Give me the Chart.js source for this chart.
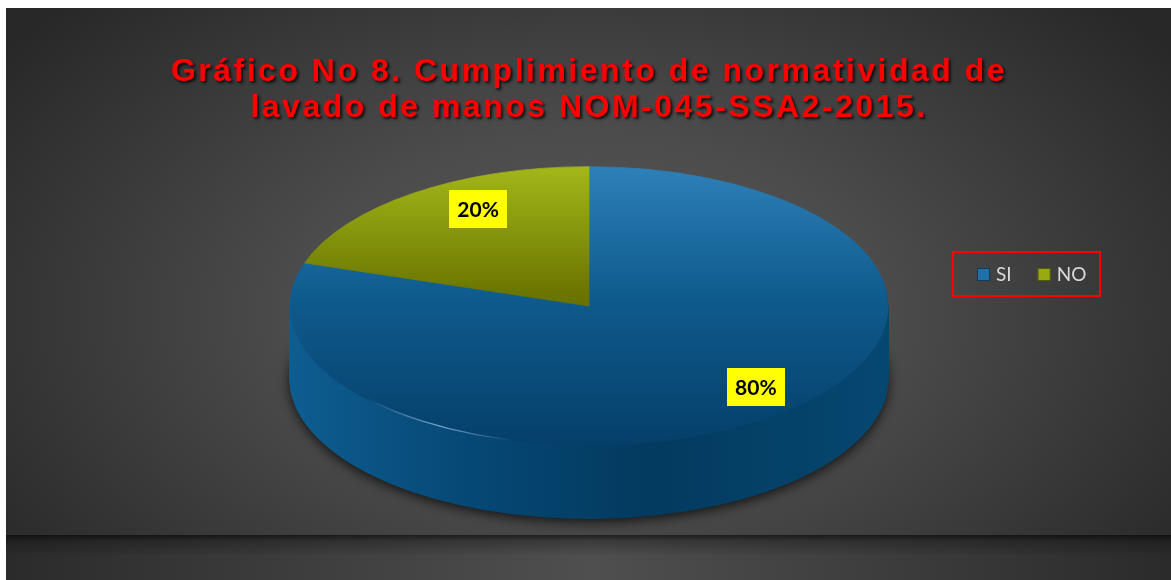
<!DOCTYPE html>
<html>
<head>
<meta charset="utf-8">
<script src="https://cdn.jsdelivr.net/npm/chart.js@4.4.1/dist/chart.umd.min.js"></script>
<style>
  html, body { margin: 0; padding: 0; background: #fff; }
  #wrap { position: relative; width: 1171px; height: 580px; overflow: hidden; }
  #panel {
    position: absolute; left: 6px; top: 8px; right: 0; height: 527px;
    background: radial-gradient(ellipse 62% 85% at 50% 58%, #585858 0%, #4c4c4c 40%, #373737 75%, #282828 100%);
  }
  #shelf {
    position: absolute; left: 6px; top: 535px; right: 0; bottom: 0;
    background:
      linear-gradient(to bottom, rgba(0,0,0,0.6) 0px, rgba(0,0,0,0.25) 6px, rgba(0,0,0,0) 22px),
      linear-gradient(to right, #2b2b2b 0%, #4f4f4f 50%, #2b2b2b 100%);
  }
  canvas { position: absolute; left: 0; top: 0; }
</style>
</head>
<body>
<div id="wrap">
  <div id="panel"></div>
  <div id="shelf"></div>
  <canvas id="grafico" width="1171" height="580"></canvas>
</div>
<script>
// datos
const categorias = ['SI', 'NO'];
const porcentajes = [80, 20];
const titulo = ['Gráfico No 8. Cumplimiento de normatividad de', 'lavado de manos NOM-045-SSA2-2015.'];

// estilo del pastel 3D
const INCLINACION = 0.466;   // alto/ancho de la elipse
const GROSOR = 73;           // alto del borde lateral
const colorLeyenda = ['#1f6fa8', '#98aa12'];

function pintarArco(ctx, el, relleno) {
  const copia = Object.create(el);
  copia.options = Object.assign({}, el.options, { backgroundColor: relleno, borderColor: relleno, borderWidth: 1 });
  el.draw.call(copia, ctx);
}

function elipse(ctx, cy, dy) {
  ctx.translate(0, cy + dy);
  ctx.scale(1, INCLINACION);
  ctx.translate(0, -cy);
}

const pastel3d = {
  id: 'pastel3d',
  beforeDraw(chart) {
    // estilo del titulo (espaciado y sombra)
    const ctx = chart.ctx;
    ctx.letterSpacing = '2.5px';
    ctx.shadowColor = 'rgba(0,0,0,0.8)';
    ctx.shadowBlur = 3;
    ctx.shadowOffsetX = 2;
    ctx.shadowOffsetY = 2;
  },
  beforeDatasetsDraw(chart) {
    const ctx = chart.ctx;
    ctx.letterSpacing = '0px';
    ctx.shadowColor = 'rgba(0,0,0,0)';
    ctx.shadowBlur = 0;
    ctx.shadowOffsetX = 0;
    ctx.shadowOffsetY = 0;

    const arcos = chart.getDatasetMeta(0).data;
    const cx = arcos[0].x, cy = arcos[0].y, r = arcos[0].outerRadius;

    const lado = ctx.createLinearGradient(cx - r, 0, cx + r, 0);
    lado.addColorStop(0, '#0e5d91');
    lado.addColorStop(0.3, '#064875');
    lado.addColorStop(0.6, '#033a5f');
    lado.addColorStop(1, '#064770');

    const arriba = [
      ctx.createLinearGradient(0, cy - r, 0, cy + r),
      ctx.createLinearGradient(0, cy - r, 0, cy + r)
    ];
    arriba[0].addColorStop(0, '#2e80b8');
    arriba[0].addColorStop(0.45, '#0f5c8f');
    arriba[0].addColorStop(1, '#053f69');
    arriba[1].addColorStop(0, '#a3b719');
    arriba[1].addColorStop(0.45, '#6b7600');
    arriba[1].addColorStop(1, '#4a5200');

    // sombra bajo el pastel
    ctx.save();
    ctx.shadowColor = 'rgba(0,0,0,0.75)';
    ctx.shadowBlur = 12;
    ctx.shadowOffsetY = 3;
    elipse(ctx, cy, GROSOR);
    arcos.forEach(el => pintarArco(ctx, el, lado));
    ctx.restore();

    // lado
    for (let d = GROSOR; d >= 1; d--) {
      ctx.save();
      elipse(ctx, cy, d);
      arcos.forEach(el => pintarArco(ctx, el, lado));
      ctx.restore();
    }

    // cara superior
    ctx.save();
    elipse(ctx, cy, 0);
    arcos.forEach((el, i) => pintarArco(ctx, el, arriba[i]));
    ctx.restore();

    // brillo en el borde frontal izquierdo
    const brillo = ctx.createLinearGradient(cx - r * 0.75, 0, cx - r * 0.25, 0);
    brillo.addColorStop(0, 'rgba(150,200,240,0)');
    brillo.addColorStop(0.5, 'rgba(150,200,240,0.75)');
    brillo.addColorStop(1, 'rgba(150,200,240,0)');
    ctx.save();
    elipse(ctx, cy, 0);
    ctx.beginPath();
    ctx.arc(cx, cy, r - 1, Math.PI * 0.82, Math.PI * 0.56, true);
    ctx.restore();
    ctx.strokeStyle = brillo;
    ctx.lineWidth = 1.5;
    ctx.stroke();
    return false;
  },
  afterDraw(chart) {
    const ctx = chart.ctx;
    const arcos = chart.getDatasetMeta(0).data;
    ctx.save();
    ctx.letterSpacing = '0px';

    // etiquetas de porcentaje
    ctx.font = 'bold 21px Lato, "Open Sans", sans-serif';
    ctx.textAlign = 'center';
    ctx.textBaseline = 'middle';
    arcos.forEach((el, i) => {
      const medio = (el.startAngle + el.endAngle) / 2;
      const rr = el.outerRadius * 0.79;
      const x = el.x + Math.cos(medio) * rr + 28;
      const y = el.y + Math.sin(medio) * rr * INCLINACION - 8;
      const txt = porcentajes[i] + '%';
      const w = ctx.measureText(txt).width + 16;
      ctx.fillStyle = '#ffff00';
      ctx.fillRect(Math.round(x - w / 2), Math.round(y - 19), Math.round(w), 38);
      ctx.fillStyle = '#000';
      ctx.fillText(txt, x, y + 1);
    });

    // leyenda
    ctx.strokeStyle = '#ff0000';
    ctx.lineWidth = 2;
    ctx.strokeRect(953, 252, 147, 44);
    ctx.font = '19px Lato, "Open Sans", sans-serif';
    ctx.textAlign = 'left';
    let x = 977;
    categorias.forEach((c, i) => {
      ctx.fillStyle = colorLeyenda[i];
      ctx.fillRect(x, 268, 13, 13);
      ctx.strokeStyle = 'rgba(0,0,0,0.45)';
      ctx.lineWidth = 1;
      ctx.strokeRect(x + 0.5, 268.5, 12, 12);
      ctx.fillStyle = '#d9d9d9';
      ctx.fillText(c, x + 19, 275);
      x += 19 + ctx.measureText(c).width + 26;
    });
    ctx.restore();
  }
};

new Chart(document.getElementById('grafico'), {
  type: 'pie',
  data: {
    labels: categorias,
    datasets: [{ data: porcentajes, backgroundColor: colorLeyenda, borderWidth: 0 }]
  },
  options: {
    responsive: false,
    animation: false,
    radius: 299,
    layout: { padding: { left: 7, bottom: 105 } },
    plugins: {
      legend: { display: false },
      tooltip: { enabled: false },
      title: {
        display: true,
        text: titulo,
        color: '#ff0000',
        font: { family: '"Liberation Sans", Arial, sans-serif', size: 32, weight: 'bold', lineHeight: 1.125 },
        padding: { top: 54, bottom: 11 }
      }
    }
  },
  plugins: [pastel3d]
});
</script>
</body>
</html>
